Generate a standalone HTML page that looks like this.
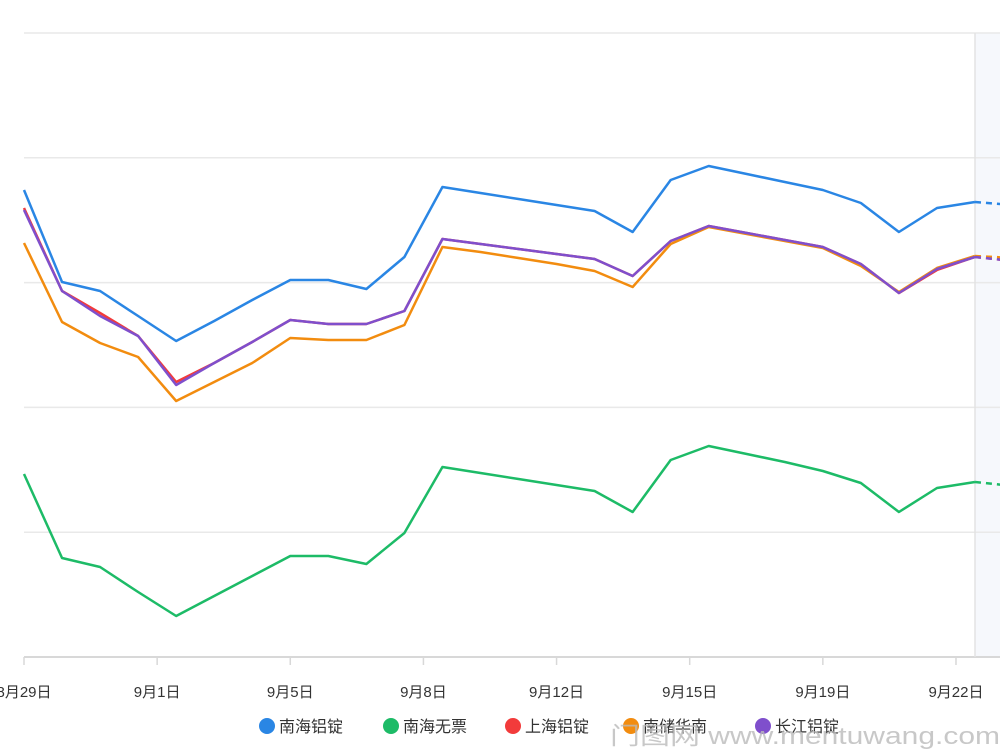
<!DOCTYPE html>
<html><head><meta charset="utf-8"><style>
body{margin:0;background:#fff;width:1000px;height:756px;overflow:hidden;font-family:"Liberation Sans","Noto Sans CJK SC",sans-serif}
svg{position:absolute;left:0;top:0}
</style></head><body>
<svg width="1000" height="756">
<rect x="975" y="33" width="25" height="624" fill="#f6f8fc"/>
<g id="grid"></g><g id="lines"></g><g id="axis"></g><g id="legend"></g>
<text x="610" y="744" font-size="24" fill="#bbb" opacity="0.8" textLength="390" lengthAdjust="spacingAndGlyphs">门图网 www.mentuwang.com</text>
</svg>
<script>
const categories=[0,1,2,3,4,5,6,7,8,9,10,11,12,13,14,15,16,17,18,19,20,21,22,23,24,25,26];
const tickLabels=["8月29日","9月1日","9月5日","9月8日","9月12日","9月15日","9月19日","9月22日"];
const tickIndex=[0,3.5,7,10.5,14,17.5,21,24.5];
const blue=[467,375,366,341,316,336,357,377,377,368,400,470,464,458,452,446,425,477,491,483,475,467,454,425,449,455,452];
const green=[183,99,90,65,41,61,81,101,101,93,124,190,184,178,172,166,145,197,211,203,195,186,174,145,169,175,171];
const red=[449,366,344,321,275,294,315,337,333,333,346,418,413,408,403,398,381,416,431,424,417,410,393,364,387,400,396];
const orange=[414,335,314,300,256,275,294,319,317,317,332,410,405,399,393,386,370,413,430,423,416,409,391,365,389,401,399];
const purple=[447,366,341,321,272,294,315,337,333,333,346,418,413,408,403,398,381,416,431,424,417,410,393,364,388,400,396];
const gridVals=[0,124.8,249.6,374.4,499.2,624];
const NS="http://www.w3.org/2000/svg";
const xS=i=>24+i*38.04, yS=v=>657-v;
function mk(t,a,p){const e=document.createElementNS(NS,t);for(const k in a)e.setAttribute(k,a[k]);p.appendChild(e);return e;}
const g=document.getElementById('grid');
gridVals.forEach(v=>{const l=mk('line',{x1:24,x2:1000,y1:yS(v),y2:yS(v),stroke:v==0?'#d8d8d8':'#e9e9e9','stroke-width':v==0?2:1.5},g);

});
const vl=mk('line',{x1:975,x2:975,y1:33,y2:657,stroke:'#e3e3e3','stroke-width':1.5},g);


const series=[["南海铝锭",blue,"#2a86e4"],["南海无票",green,"#1dbb67"],["上海铝锭",red,"#f23b3b"],["南储华南",orange,"#f28c0f"],["长江铝锭",purple,"#7f4fcc"]];
const L=document.getElementById('lines');
series.forEach(([n,d,c])=>{
 const solid=d.slice(0,26).map((v,i)=>xS(i)+','+yS(v)).join(' ');
 const p=mk('polyline',{points:solid,fill:'none',stroke:c,'stroke-width':2.5,'stroke-linejoin':'round'},L);
 
 
 const q=mk('polyline',{points:xS(25)+','+yS(d[25])+' '+xS(26)+','+yS(d[26]),fill:'none',stroke:c,'stroke-width':2.5,'stroke-dasharray':'6,5'},L);
 
 
});
const A=document.getElementById('axis');
tickIndex.forEach((ti,k)=>{const x=xS(ti);
 const t=mk('line',{x1:x,x2:x,y1:657,y2:665,stroke:'#d8d8d8','stroke-width':1.5},A);
 
 
 const tx=mk('text',{x:x,y:697,'font-size':15,fill:'#333','text-anchor':'middle'},A);tx.textContent=tickLabels[k];
 
 });
const G=document.getElementById('legend');const lx=[267,391,513,631,763];
series.forEach(([n,d,c],i)=>{
 const ci=mk('circle',{cx:lx[i],cy:726,r:8,fill:c},G);
 
 
 const t=mk('text',{x:lx[i]+12,y:732,'font-size':16,fill:'#333'},G);t.textContent=n;
 
 });
</script>
</body></html>
